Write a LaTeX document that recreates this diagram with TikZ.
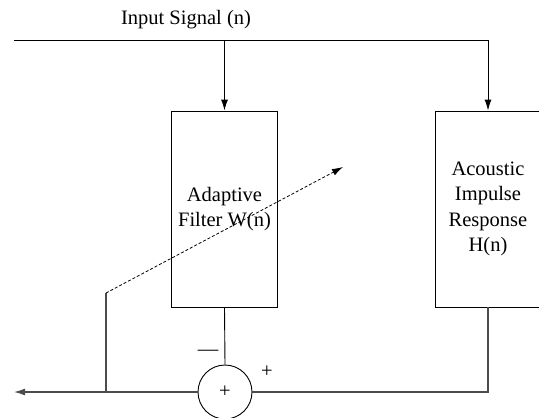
\documentclass[tikz,border=0pt]{standalone}
\usepackage{fontspec}
\setmainfont{Liberation Serif}
\usetikzlibrary{arrows.meta,positioning}
\tikzset{
  blockbox/.style={draw, minimum width=106pt, minimum height=196pt, align=center, inner sep=0pt},
  sumnode/.style={draw, circle, minimum size=54pt, inner sep=0pt},
  sig/.style={-{Latex[length=11pt,width=7pt]}},
  wire/.style={draw=black!70, line width=1.3pt},
}
\begin{document}
\begin{tikzpicture}[x=1pt, y=-1pt, line width=0.9pt, font=\fontsize{20.5}{25.5}\selectfont]
    \useasboundingbox (0,0) rectangle (539,418);

    % blocks
    \node[blockbox] (filter) at (224.5,209) {Adaptive\\Filter W(n)};
    \node[blockbox] (room) at (488,209) {Acoustic\\Impulse\\Response\\H(n)};
    \node[sumnode] (sum) at (225,392) {+};

    % input signal
    \node (input) at (186,20) {Input Signal (n)};
    \coordinate (inL) at (14,40.7);
    \draw (inL) -- (inL -| filter.north);
    \draw[sig] (inL -| filter.north) -- (filter.north);
    \draw[sig] (inL -| filter.north) -- (inL -| room.north) -- (room.north);

    % error path
    \coordinate (out) at (14,392);
    \coordinate (fb) at (106,293);
    \coordinate (adapt) at (343,167);
    \draw (filter.south) -- (sum.north);
    \draw[wire] (room.south) |- (sum.east);
    \draw[wire, sig] (sum.west) -- (out);
    \draw[wire] (fb |- sum) -- (fb);
    \draw[sig, line width=0.8pt, dash pattern=on 3pt off 2pt] (fb) -- (adapt);

    % signs
    \node (minus) at (208,353) {\textemdash};
    \node (plusR) at (267,372) {+};
\end{tikzpicture}
\end{document}
